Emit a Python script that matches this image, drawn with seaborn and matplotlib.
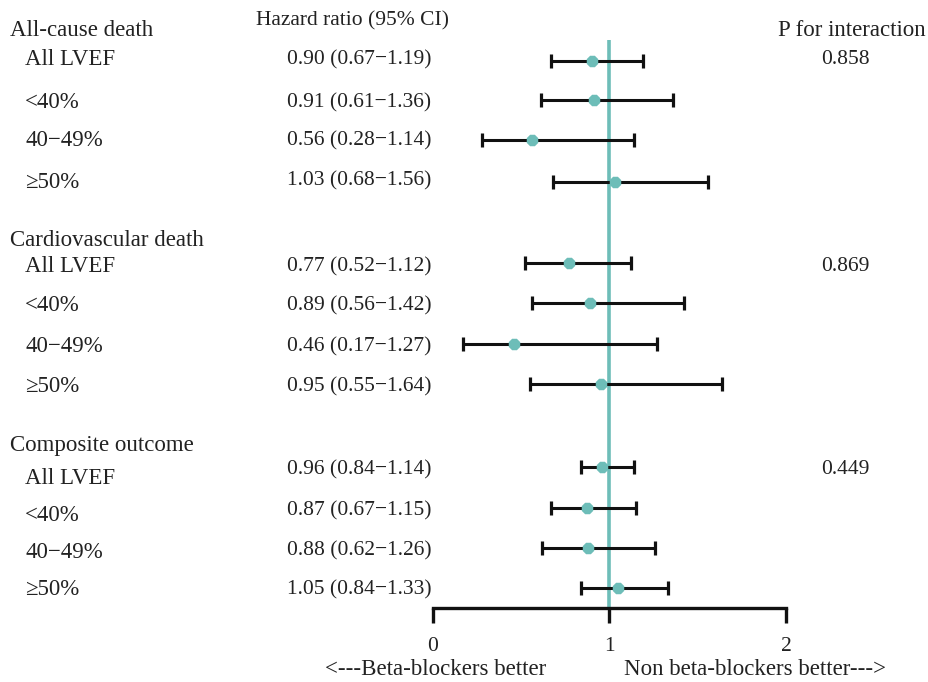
import matplotlib
matplotlib.use("Agg")
import matplotlib.pyplot as plt
import seaborn as sns
import pandas as pd
import numpy as np

# ---- data ----
outcomes = ["All-cause death", "Cardiovascular death", "Composite outcome"]
subgroups = ["All LVEF", "<40%", "40\u221249%", "\u226550%"]
hr = [0.90, 0.91, 0.56, 1.03,
      0.77, 0.89, 0.46, 0.95,
      0.96, 0.87, 0.88, 1.05]
ci_low = [0.67, 0.61, 0.28, 0.68,
          0.52, 0.56, 0.17, 0.55,
          0.84, 0.67, 0.62, 0.84]
ci_high = [1.19, 1.36, 1.14, 1.56,
           1.12, 1.42, 1.27, 1.64,
           1.14, 1.15, 1.26, 1.33]
p_interaction = ["0.858", "0.869", "0.449"]
x_ticks = [0, 1, 2]

# ---- layout (pixel rows) ----
W, H = 929, 682
header_y = [31, 241, 446]
label_y = [60, 103, 141, 183, 267, 306, 347, 387, 479, 516, 553, 590]
hrtext_y = [60, 103, 141, 181, 267, 306, 347, 387, 470, 511, 551, 590]
mark_y = [61, 100, 140, 182, 263, 303, 344, 384, 467, 508, 548, 588]
pval_y = [60, 267, 470]

sns.set_theme(style="white")
plt.rcParams['font.family'] = ['Liberation Serif', 'DejaVu Serif']
FS_NUM = 15.5
FS_LAB = 16.5
teal = "#6dbdb8"
ink = "#222222"

fig = plt.figure(figsize=(W / 100, H / 100), dpi=100)
x0, x2 = 433, 786
ax_top, ax_bot = 40, 608
ax = fig.add_axes([x0 / W, 1 - ax_bot / H, (x2 - x0) / W, (ax_bot - ax_top) / H])
ax.set_xlim(0, 2)
ax.set_ylim(ax_bot, ax_top)
ax.patch.set_alpha(0)

df = pd.DataFrame({"hr": hr, "lo": ci_low, "hi": ci_high, "y": mark_y})

# reference line
ax.axvline(1, color=teal, lw=2.6, zorder=1)

# CI bars
ax.errorbar(df["hr"], df["y"], xerr=[df["hr"] - df["lo"], df["hi"] - df["hr"]],
            fmt="none", ecolor="#111111", elinewidth=2.2, capsize=4.7, capthick=2.3, zorder=2)
sns.scatterplot(data=df, x="hr", y="y", ax=ax, marker="8", s=80, color=teal,
                edgecolor=teal, linewidth=0, zorder=3, legend=False)

# axis styling
for s in ["top", "left", "right"]:
    ax.spines[s].set_visible(False)
ax.spines["bottom"].set_color("#111111")
ax.spines["bottom"].set_linewidth(2.4)
ax.set_xticks(x_ticks)
ax.set_xticklabels([str(t) for t in x_ticks], fontsize=FS_NUM, color=ink)
ax.tick_params(axis="x", direction="out", length=11, width=2.4, color="#111111", pad=10, bottom=True)
ax.set_yticks([])
ax.set_xlabel("")
ax.set_ylabel("")


def px(x):
    return (x - x0) / (x2 - x0) * 2


kw = dict(color=ink, clip_on=False, va="center")

# header texts
ax.text(px(353), 21, "Hazard ratio (95% CI)", ha="center", fontsize=FS_NUM, **kw)
ax.text(px(852), 31, "P for interaction", ha="center", fontsize=FS_LAB, **kw)

for i, name in enumerate(outcomes):
    ax.text(px(10), header_y[i], name, ha="left", fontsize=FS_LAB, **kw)
    ax.text(px(845), pval_y[i], p_interaction[i], ha="center", fontsize=FS_NUM, **kw)
    for j, sg in enumerate(subgroups):
        k = i * 4 + j
        ax.text(px(25), label_y[k], sg, ha="left", fontsize=FS_LAB, **kw)
        ax.text(px(359), hrtext_y[k],
                f"{hr[k]:.2f} ({ci_low[k]:.2f}\u2212{ci_high[k]:.2f})",
                ha="center", fontsize=FS_NUM, **kw)

ax.text(px(325), 670, "<---Beta-blockers better", ha="left", fontsize=FS_LAB, **kw)
ax.text(px(624), 670, "Non beta-blockers better--->", ha="left", fontsize=FS_LAB, **kw)

fig.savefig("out.png", dpi=100)
